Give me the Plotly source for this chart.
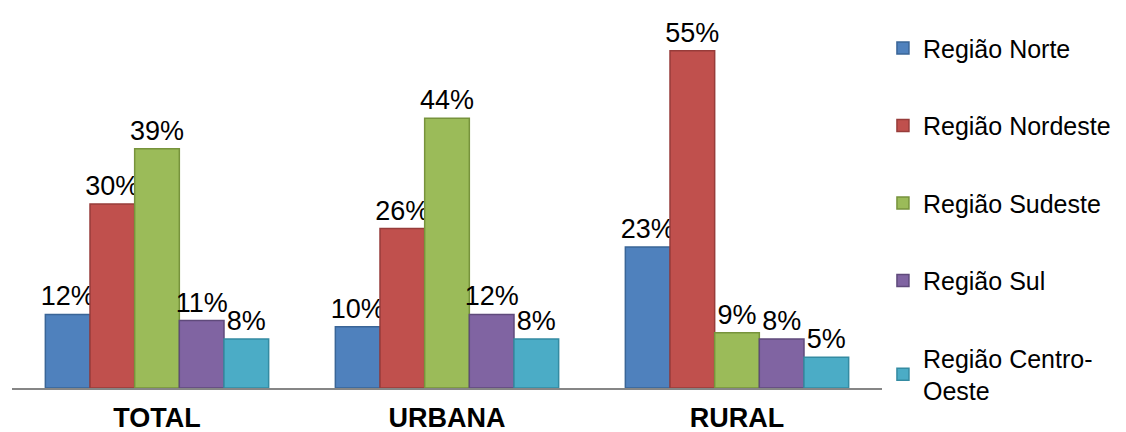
import plotly.graph_objects as go

categories = ["TOTAL", "URBANA", "RURAL"]
series_names = ["Região Norte", "Região Nordeste", "Região Sudeste", "Região Sul", "Região Centro-<br>Oeste"]
norte = [0.12, 0.10, 0.23]
nordeste = [0.30, 0.26, 0.55]
sudeste = [0.39, 0.44, 0.09]
sul = [0.11, 0.12, 0.08]
centro_oeste = [0.08, 0.08, 0.05]

values = [norte, nordeste, sudeste, sul, centro_oeste]
colors = ["#4F81BD", "#C0504D", "#9BBB59", "#8064A2", "#4BACC6"]
borders = ["#3A6597", "#973C3A", "#77933C", "#5F4A7B", "#348BA2"]

FONT = "Arial, 'Liberation Sans', sans-serif"

fig = go.Figure()
for i, (name, vals) in enumerate(zip(series_names, values)):
    fig.add_trace(go.Bar(
        x=categories, y=vals, name=name,
        marker=dict(color=colors[i], line=dict(color=borders[i], width=1.5)),
        text=[f"{round(v*100)}%" for v in vals],
        textposition="outside", constraintext="none", cliponaxis=False,
        textfont=dict(size=27, color="#000000", family=FONT),
        legendgroup=str(i),
    ))

fig.update_layout(
    width=1118, height=424,
    margin=dict(l=4, r=244, t=12, b=44, autoexpand=False),
    paper_bgcolor="white", plot_bgcolor="white",
    barmode="group", bargap=0.23, bargroupgap=0,
    font=dict(family=FONT, size=25, color="#000000"),
    showlegend=True,
    legend=dict(x=1.0011, y=0.986, xanchor="left", yanchor="top",
                font=dict(size=25, family=FONT), tracegroupgap=42,
                itemwidth=30, bgcolor="rgba(0,0,0,0)", maxheight=1000),
    xaxis=dict(showline=True, linecolor="#868686", linewidth=1.5, showgrid=False,
               ticks="", tickfont=dict(size=27, family=FONT, weight="bold"),
               ticklabelstandoff=5, fixedrange=True),
    yaxis=dict(range=[0, 0.6], visible=False, showgrid=False, fixedrange=True),
)

fig.write_html("out.html")
